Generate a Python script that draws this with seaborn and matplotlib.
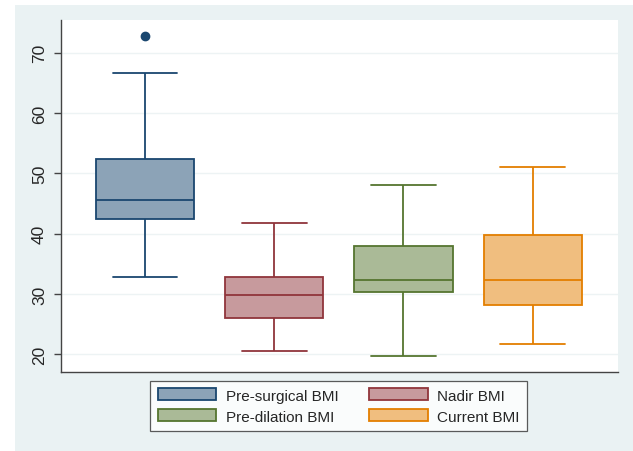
import numpy as np
import pandas as pd
import matplotlib
matplotlib.use("Agg")
import matplotlib.pyplot as plt
from matplotlib.patches import Patch, Rectangle
import seaborn as sns

# Five-number summaries
categories = ["Pre-surgical BMI", "Nadir BMI", "Pre-dilation BMI", "Current BMI"]
lower_whisker = [32.9, 20.6, 19.8, 21.7]
q1 = [42.4, 26.0, 30.3, 28.1]
median = [45.5, 29.9, 32.4, 32.4]
q3 = [52.3, 32.9, 37.9, 39.7]
upper_whisker = [66.7, 41.7, 48.0, 51.0]
outliers = [[72.8], [], [], []]

edge_colors = ["#1a476f", "#90353b", "#55752f", "#e37e00"]
fill_colors = ["#8ca3b7", "#c79a9d", "#aaba97", "#f0be7f"]

# build a long table whose quartiles reproduce the summaries
rows = []
for i, c in enumerate(categories):
    vals = [lower_whisker[i], q1[i], q1[i], median[i], median[i], q3[i], q3[i], upper_whisker[i]]
    vals += outliers[i] if outliers[i] else [upper_whisker[i]]
    for v in vals:
        rows.append({"group": c, "bmi": v})
df = pd.DataFrame(rows)

sns.set_style("white")
plt.rcParams["font.family"] = ["Liberation Sans", "DejaVu Sans"]

fig = plt.figure(figsize=(6.33, 4.52), dpi=100, facecolor="white")
fig.patches.append(Rectangle((15 / 633, 0), 1 - 15 / 633, 1 - 6 / 452,
                             transform=fig.transFigure, facecolor="#eaf2f3",
                             edgecolor="none", zorder=-10))
ax = fig.add_axes([61 / 633, 1 - 373 / 452, (618 - 61) / 633, (373 - 21) / 452])
ax.set_facecolor("white")

sns.boxplot(data=df, x="group", y="bmi", hue="group", order=categories,
            hue_order=categories, palette=fill_colors, saturation=1,
            width=0.76, linewidth=1.3, fliersize=6, legend=False,
            capwidths=0.5, ax=ax)

for cont, ec in zip(ax.containers, edge_colors):
    for b in cont.boxes:
        b.set_edgecolor(ec)
    for ln in list(cont.whiskers) + list(cont.caps) + list(cont.medians):
        ln.set_color(ec)
    for f in cont.fliers:
        f.set_markerfacecolor(ec)
        f.set_markeredgecolor(ec)
        f.set_marker("o")

ax.set_xlim(-0.65, 3.66)
ax.set_ylim(17.08, 75.4)
ax.set_yticks([20, 30, 40, 50, 60, 70])
ax.set_xticks([])
ax.set_xlabel("")
ax.set_ylabel("")
ax.yaxis.grid(True, color="#edf3f4", linewidth=1.0)
ax.set_axisbelow(True)
for s in ["top", "right"]:
    ax.spines[s].set_visible(False)
for s in ["left", "bottom"]:
    ax.spines[s].set_color("#444444")
    ax.spines[s].set_linewidth(1.0)
ax.tick_params(axis="y", which="major", left=True, length=5, width=1,
               color="#444444", labelsize=12.5, pad=5)
for lbl in ax.get_yticklabels():
    lbl.set_rotation(90)
    lbl.set_va("center")

handles = [Patch(facecolor=fc, edgecolor=ec, linewidth=1.3)
           for fc, ec in zip(fill_colors, edge_colors)]
# legend fills column-wise; reorder so rows read as in the reference
order = [0, 2, 1, 3]
leg = fig.legend([handles[i] for i in order], [categories[i] for i in order],
                 ncol=2, loc="center",
                 bbox_to_anchor=(338.5 / 633, 1 - 407 / 452),
                 fontsize=11, frameon=True, fancybox=False,
                 handlelength=3.85, handleheight=0.8, handletextpad=0.6,
                 columnspacing=2.0, labelspacing=0.45, borderpad=0.5,
                 borderaxespad=0)
leg.get_frame().set_edgecolor("#333333")
leg.get_frame().set_linewidth(0.9)
leg.get_frame().set_facecolor("white")

fig.savefig("out.png", dpi=100, facecolor="white")
